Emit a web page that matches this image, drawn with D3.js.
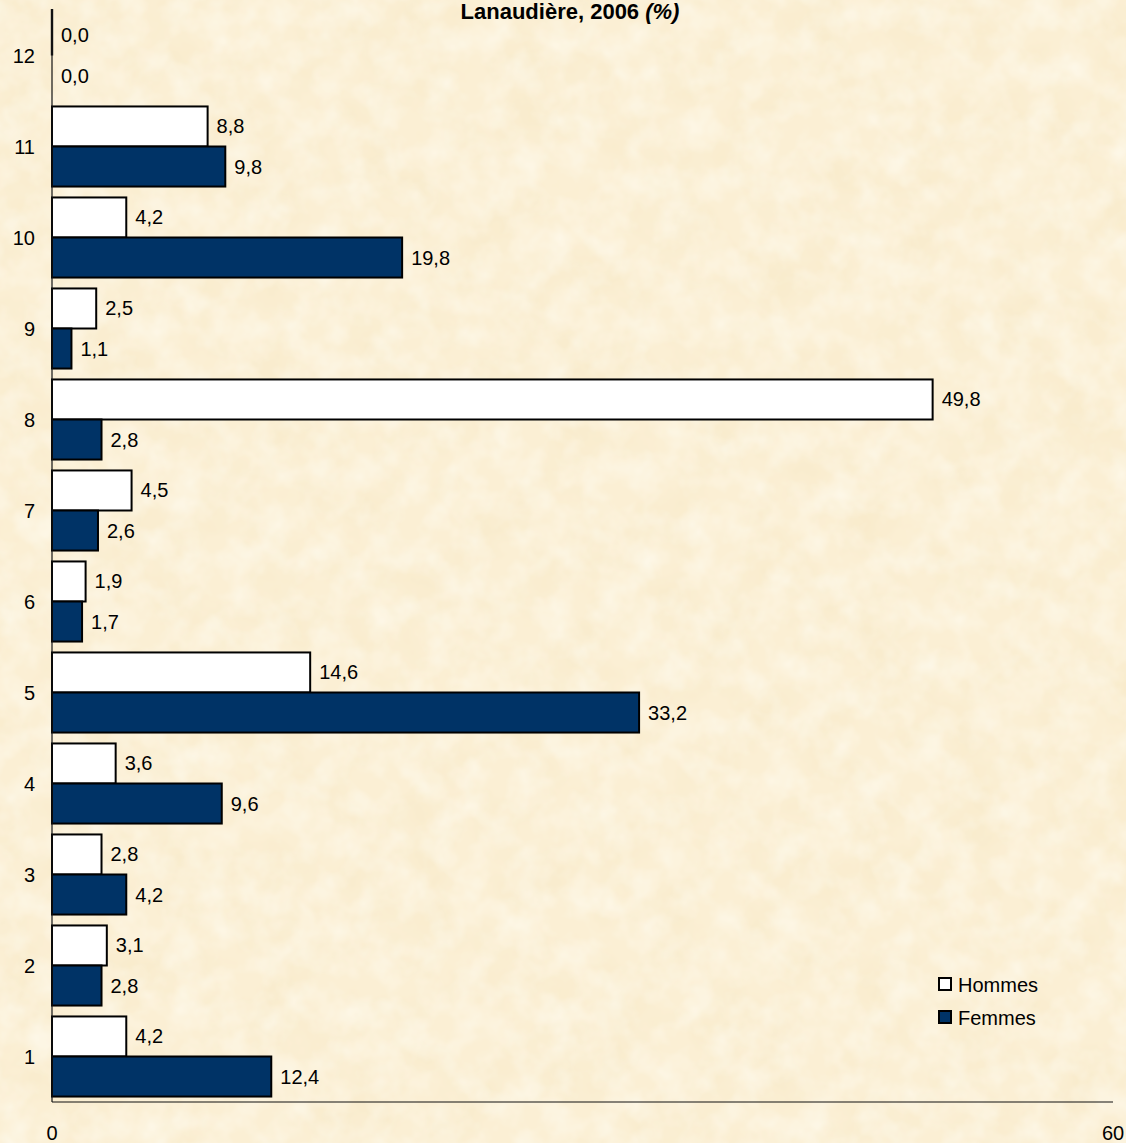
<!DOCTYPE html>
<html>
<head>
<meta charset="utf-8">
<script src="https://cdn.jsdelivr.net/npm/d3@7"></script>
<style>
html,body{margin:0;padding:0;background:#FBEFD4;}
svg{display:block;}
text{font-family:Arial,"Liberation Sans",sans-serif;}
</style>
</head>
<body>
<script>
const categories = ["1","2","3","4","5","6","7","8","9","10","11","12"];
const hommes = [4.2, 3.1, 2.8, 3.6, 14.6, 1.9, 4.5, 49.8, 2.5, 4.2, 8.8, 0.0];
const femmes = [12.4, 2.8, 4.2, 9.6, 33.2, 1.7, 2.6, 2.8, 1.1, 19.8, 9.8, 0.0];
const seriesNames = ["Hommes", "Femmes"];
const seriesColors = ["#FFFFFF", "#003366"];
const xTicks = [0, 60];
const titleMain = "Lanaudière, 2006 ";
const titleUnit = "(%)";

const W = 1126, H = 1143;
const svg = d3.select("body").append("svg").attr("width", W).attr("height", H);

// background texture
const defs = svg.append("defs");
const f = defs.append("filter").attr("id","tex").attr("x",0).attr("y",0).attr("width","100%").attr("height","100%");
f.append("feTurbulence").attr("type","fractalNoise").attr("baseFrequency","0.02").attr("numOctaves",4).attr("seed",7).attr("result","n");
f.append("feColorMatrix").attr("in","n").attr("type","matrix")
 .attr("values","0 0 0 0 0.88  0 0 0 0 0.74  0 0 0 0 0.45  0.5 0 0 0 -0.2");
const f2 = defs.append("filter").attr("id","tex2").attr("x",0).attr("y",0).attr("width","100%").attr("height","100%");
f2.append("feTurbulence").attr("type","fractalNoise").attr("baseFrequency","0.035").attr("numOctaves",3).attr("seed",21).attr("result","n");
f2.append("feColorMatrix").attr("in","n").attr("type","matrix")
 .attr("values","0 0 0 0 1  0 0 0 0 1  0 0 0 0 0.95  0.9 0 0 0 -0.32");
svg.append("rect").attr("width",W).attr("height",H).attr("fill","#FBEFD4");
svg.append("rect").attr("width",W).attr("height",H).attr("filter","url(#tex)");
svg.append("rect").attr("width",W).attr("height",H).attr("filter","url(#tex2)");

const x = d3.scaleLinear().domain([0, 60]).range([52, 1113]);
const y = d3.scaleBand().domain(categories.slice().reverse()).range([10, 1102]).paddingInner(0.12).paddingOuter(0.06);
const sub = d3.scaleBand().domain(seriesNames).range([0, y.bandwidth()]);

const data = categories.map((c,i)=>({c, vals:[hommes[i], femmes[i]]}));
const fmt = v => d3.format(".1f")(v).replace(".", ",");

const g = svg.append("g");
data.forEach(d => {
  d.vals.forEach((v, si) => {
    const y0 = y(d.c) + sub(seriesNames[si]);
    if (v > 0) {
      g.append("rect")
        .attr("x", x(0)).attr("y", y0)
        .attr("width", x(v) - x(0)).attr("height", sub.bandwidth())
        .attr("fill", seriesColors[si]).attr("stroke", "#000").attr("stroke-width", 2);
    }
    g.append("text")
      .attr("x", x(v) + 9).attr("y", y0 + sub.bandwidth()/2 + 7)
      .attr("font-size", 20).attr("fill", "#000")
      .text(fmt(v));
  });
});

// axes
svg.append("line").attr("x1", x(0)).attr("x2", x(0)).attr("y1", 9).attr("y2", 1102).attr("stroke","#111").attr("stroke-width",1.2);
svg.append("line").attr("x1", x(0)).attr("x2", x(0)).attr("y1", 9).attr("y2", y("12") + sub("Femmes")).attr("stroke","#111").attr("stroke-width",2.4);
svg.append("line").attr("x1", x(0)).attr("x2", x(60)).attr("y1", 1102).attr("y2", 1102).attr("stroke","#111").attr("stroke-width",1.2);

// y labels
categories.forEach(c => {
  svg.append("text").attr("x", 35).attr("y", y(c) + y.bandwidth()/2 + 7)
    .attr("text-anchor","end").attr("font-size",20).text(c);
});
// x ticks
xTicks.forEach(t => {
  svg.append("text").attr("x", x(t)).attr("y", 1140).attr("text-anchor","middle").attr("font-size",20).text(t);
});

// title
const tt = svg.append("text").attr("x", 570).attr("y", 19).attr("text-anchor","middle")
  .attr("font-size",22).attr("font-weight","bold");
tt.append("tspan").text(titleMain);
tt.append("tspan").attr("font-style","italic").text(titleUnit);

// legend
seriesNames.forEach((s, i) => {
  const ly = 978 + i*33;
  svg.append("rect").attr("x", 939).attr("y", ly).attr("width", 12).attr("height", 12)
    .attr("fill", seriesColors[i]).attr("stroke","#000").attr("stroke-width",2);
  svg.append("text").attr("x", 958).attr("y", ly + 14).attr("font-size",20).text(s);
});
</script>
</body>
</html>
